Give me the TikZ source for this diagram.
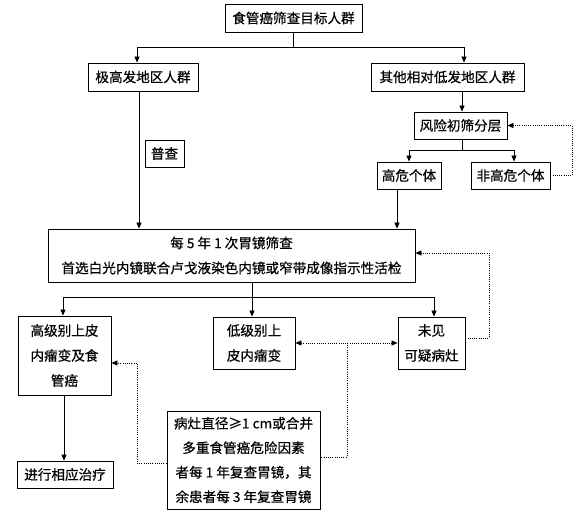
\documentclass[tikz,border=0pt]{standalone}
\usepackage{fontspec}
\newfontfamily\cjk[FakeBold=0.5]{Noto Sans CJK SC}
\usetikzlibrary{arrows.meta}
\begin{document}
\begin{tikzpicture}[x=1pt,y=-1pt,
  box/.style={draw,line width=0.9pt,inner sep=0pt,align=center,
    font=\cjk\fontsize{13.6}{25}\selectfont},
  link/.style={line width=0.8pt},
  arr/.style={link,-{Triangle[length=6pt,width=5pt]}},
  dot/.style={line width=0.8pt,dash pattern=on 1pt off 1.2pt},
  darr/.style={dot,-{Triangle[length=6pt,width=5pt]}},
  ddarr/.style={dot,{Triangle[length=6pt,width=5pt]}-{Triangle[length=6pt,width=5pt]}}]
\useasboundingbox (0,0) rectangle (579,519);
\node[box,minimum width=137pt,minimum height=28pt] (top) at (293.5,18) {食管癌筛查目标人群};
\node[box,minimum width=110pt,minimum height=28pt] (jg) at (143,77) {极高发地区人群};
\node[box,minimum width=153pt,minimum height=28pt] (qt) at (447.5,77) {其他相对低发地区人群};
\node[box,minimum width=93pt,minimum height=27pt] (fx) at (460.5,125.5) {风险初筛分层};
\node[box,minimum width=39pt,minimum height=27pt] (pc) at (164.5,153.5) {普查};
\node[box,minimum width=64pt,minimum height=27pt] (gw) at (409,175.5) {高危个体};
\node[box,minimum width=79pt,minimum height=27pt] (fg) at (510.5,175.5) {非高危个体};
\node[box,minimum width=367pt,minimum height=53pt] (big) at (231.5,255.5)
  {每 5 年 1 次胃镜筛查\\首选白光内镜联合卢戈液染色内镜或窄带成像指示性活检};
\node[box,minimum width=93pt,minimum height=79pt] (hg) at (64.5,355.5) {高级别上皮\\内瘤变及食\\管癌};
\node[box,minimum width=82pt,minimum height=52pt] (dj) at (254,343) {低级别上\\皮内瘤变};
\node[box,minimum width=67pt,minimum height=52pt] (wj) at (431.5,343) {未见\\可疑病灶};
\node[box,minimum width=96pt,minimum height=27pt] (zl) at (65,474.5) {进行相应治疗};
\node[box,minimum width=153pt,minimum height=98pt,font=\cjk\fontsize{13.6}{24.5}\selectfont] (bz) at (243.5,460)
  {病灶直径≥1 cm或合并\\多重食管癌危险因素\\者每 1 年复查胃镜，其\\余患者每 3 年复查胃镜};
% top split
\coordinate (t1) at (top.south |- 0,47);
\draw[link] (top.south) -- (t1);
\draw[arr] (t1) -| ([xshift=-6pt]jg.north);
\draw[arr] (t1) -| ([xshift=16.5pt]qt.north);
% left column
\draw[arr] ([xshift=-4pt]jg.south) -- ([xshift=-4pt]jg.south |- big.north);
% right column
\draw[arr] ([xshift=14.5pt]qt.south) -- ([xshift=14.5pt]qt.south |- fx.north);
\coordinate (f1) at ([xshift=1.5pt]fx.south |- 0,150);
\draw[link] ([xshift=1.5pt]fx.south) -- (f1);
\draw[arr] (f1) -| (gw.north);
\draw[arr] (f1) -| ([xshift=3.5pt]fg.north);
\draw[darr] (fg.east) -- (572,175.5) |- (fx.east);
\draw[arr] ([xshift=-12pt]gw.south) -- ([xshift=-12pt]gw.south |- big.north);
% bottom split
\coordinate (b1) at ([xshift=20.5pt]big.south |- 0,297);
\draw[link] ([xshift=20.5pt]big.south) -- (b1);
\draw[arr] (b1) -| ([xshift=-1.5pt]hg.north);
\draw[arr] (b1) -| ([xshift=-2pt]dj.north);
\draw[arr] (b1) -| ([xshift=2.5pt]wj.north);
\draw[arr] ([xshift=-0.5pt]hg.south) -- ([xshift=-0.5pt]hg.south |- zl.north);
% dotted feedback
\draw[darr] ([yshift=5pt]wj.east) -- (489,338) |- ([yshift=2.5pt]big.east);
\draw[ddarr] (dj.east) -- (wj.west);
\coordinate (m1) at (347,343);
\draw[dot] (m1) |- ([yshift=3pt]bz.east);
\draw[darr] ([yshift=-3pt]bz.west) -- (137,463) |- ([yshift=-7.5pt]hg.east);
\end{tikzpicture}
\end{document}
